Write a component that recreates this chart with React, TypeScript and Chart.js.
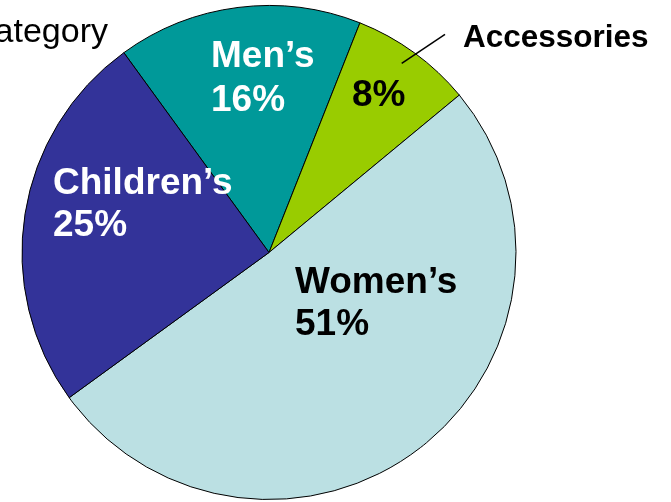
import React, { useEffect, useRef } from "react";
import { Chart, registerables } from "chart.js";

Chart.register(...registerables);

const categories = ["Men’s", "Accessories", "Women’s", "Children’s"];
const shares = [16, 8, 51, 25];
const percentLabels = ["16%", "8%", "51%", "25%"];
const sliceColors = ["#009999", "#99CC00", "#BBE0E3", "#333399"];
const titleText = "Sales by Category";

const FONT = "'Liberation Sans', Arial, Helvetica, sans-serif";

// label placement relative to pie centre (px)
const labelLayout = [
  { name: [-58, -185.5], pct: [-58, -141.5], color: "#ffffff", inside: true },
  { name: [194, -206], pct: [83, -146.5], color: "#000000", inside: false },
  { name: [26, 40.5], pct: [26, 82.5], color: "#000000", inside: true },
  { name: [-216, -58.5], pct: [-216, -16.5], color: "#ffffff", inside: true },
];

const labelPlugin = {
  id: "sliceLabels",
  afterDraw(chart: any) {
    const ctx = chart.ctx as CanvasRenderingContext2D;
    const meta = chart.getDatasetMeta(0);
    const arc0 = meta.data[0];
    if (!arc0) return;
    const cx = arc0.x;
    const cy = arc0.y;
    ctx.save();
    ctx.textAlign = "left";
    ctx.textBaseline = "alphabetic";
    labelLayout.forEach((l, i) => {
      ctx.fillStyle = l.color;
      if (l.inside) {
        ctx.font = `bold 37px ${FONT}`;
        ctx.fillText(categories[i], cx + l.name[0], cy + l.name[1]);
        ctx.fillText(percentLabels[i], cx + l.pct[0], cy + l.pct[1]);
      } else {
        ctx.font = `bold 37px ${FONT}`;
        ctx.fillText(percentLabels[i], cx + l.pct[0], cy + l.pct[1]);
        ctx.font = `bold 31.5px ${FONT}`;
        ctx.fillText(categories[i], cx + l.name[0], cy + l.name[1]);
        // leader line
        ctx.strokeStyle = "#000000";
        ctx.lineWidth = 1.5;
        ctx.beginPath();
        ctx.moveTo(cx + 176, cy - 218.2);
        ctx.lineTo(cx + 132.7, cy - 189.2);
        ctx.stroke();
      }
    });
    // title (partially out of view on the left)
    ctx.fillStyle = "#000000";
    ctx.textAlign = "right";
    ctx.font = `34px ${FONT}`;
    ctx.fillText(titleText, 108, 42);
    ctx.restore();
  },
};

export default function App() {
  const canvasRef = useRef<HTMLCanvasElement | null>(null);

  useEffect(() => {
    const canvas = canvasRef.current;
    if (!canvas) return;
    const chart = new Chart(canvas, {
      type: "pie",
      data: {
        labels: categories,
        datasets: [
          {
            data: shares,
            backgroundColor: sliceColors,
            borderColor: "#000000",
            borderWidth: 1,
          },
        ],
      },
      options: {
        responsive: false,
        animation: false,
        rotation: -36,
        radius: 247,
        layout: { padding: { left: 21.5, right: 154.5, top: 5, bottom: 2 } },
        plugins: {
          legend: { display: false },
          tooltip: { enabled: false },
          title: { display: false },
        },
      } as any,
      plugins: [labelPlugin],
    });
    return () => chart.destroy();
  }, []);

  return (
    <div style={{ position: "absolute", left: 0, top: 0, width: 671, height: 502, background: "#ffffff" }}>
      <canvas ref={canvasRef} width={671} height={502} style={{ display: "block" }} />
    </div>
  );
}
